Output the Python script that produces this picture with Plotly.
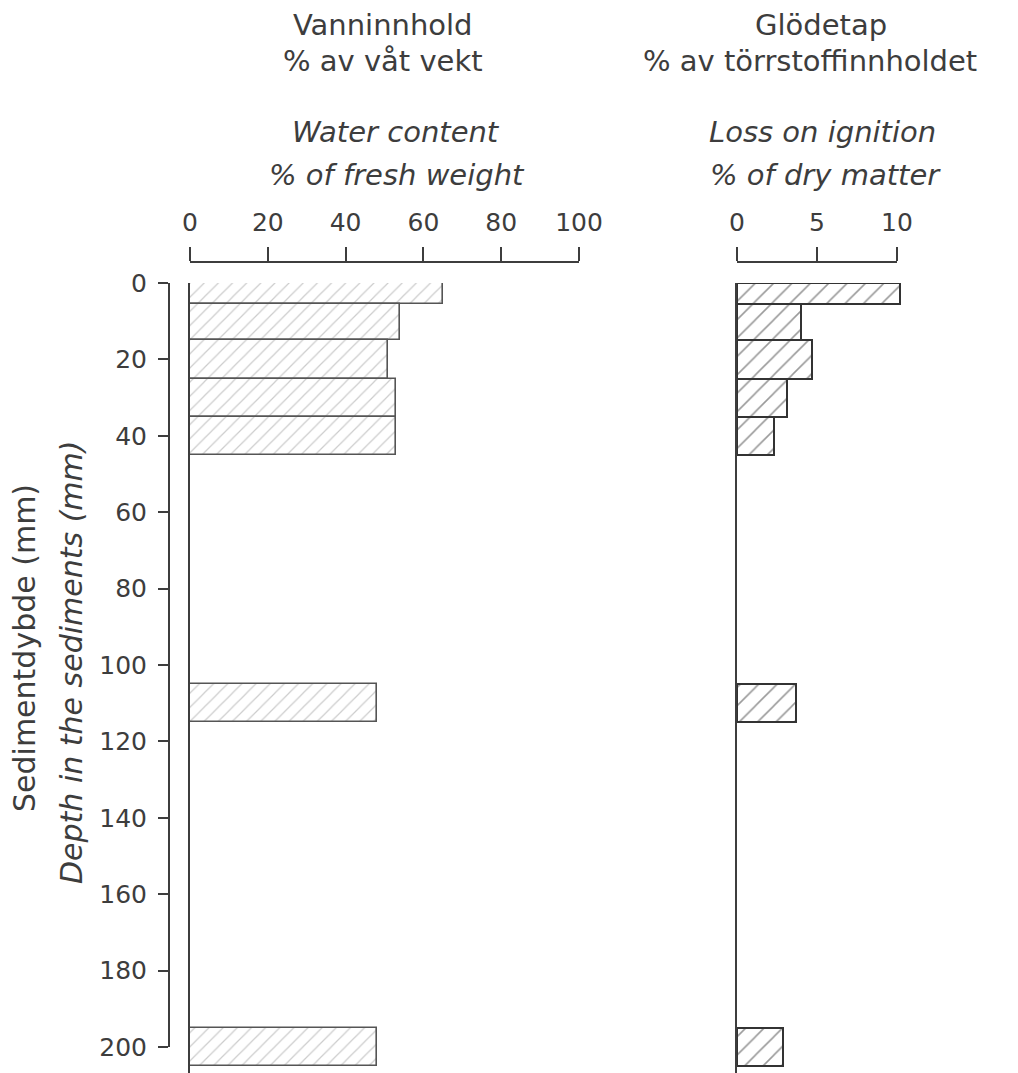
import plotly.graph_objects as go

# 깊이 구간 (mm)
depth_top = [0, 5.5, 15, 25, 35, 105, 195]
depth_bottom = [5.5, 15, 25, 35, 45, 115, 205]

# 수분 함량 (% of fresh weight)
water_content = [65, 54, 51, 53, 53, 48, 48]
# 강열 감량 (% of dry matter)
loss_on_ignition = [10.2, 4.0, 4.7, 3.1, 2.3, 3.7, 2.9]

water_ticks = [0, 20, 40, 60, 80, 100]
ignition_ticks = [0, 5, 10]
depth_ticks = [0, 20, 40, 60, 80, 100, 120, 140, 160, 180, 200]

centers = [(a + b) / 2 for a, b in zip(depth_top, depth_bottom)]
widths = [b - a for a, b in zip(depth_top, depth_bottom)]

INK = '#3d3d3d'
FONT = 'DejaVu Sans'
W, H = 1018, 1073
OFF = 8  # 페이지 body 여백


def px(x):
    return (x - OFF) / W


def py(y):
    return 1 - (y - OFF) / H


# 화면 기준 위치 (px)
Y0, Y200 = 283, 1047          # 깊이 0, 200
PX_MM = (Y200 - Y0) / 200
W0, W100 = 190, 579           # 수분 0, 100
I0, I10 = 737, 897            # 강열감량 0, 10
depth_max = (H + OFF - Y0) / PX_MM
ign_max = 10.5

fig = go.Figure()

# 1) 수분 함량 막대
fig.add_trace(go.Bar(
    x=water_content, y=centers, width=widths, orientation='h',
    xaxis='x', yaxis='y2',
    marker=dict(color='white', line=dict(color='#555555', width=1.6),
                pattern=dict(shape='/', fgcolor='#9a9a9a', bgcolor='white',
                             size=10, solidity=0.12)),
    showlegend=False, hoverinfo='skip',
))

# 2) 강열 감량 막대
fig.add_trace(go.Bar(
    x=loss_on_ignition, y=centers, width=widths, orientation='h',
    xaxis='x3', yaxis='y3',
    marker=dict(color='white', line=dict(color='#333333', width=2),
                pattern=dict(shape='/', fgcolor='#333333', bgcolor='white',
                             size=13, solidity=0.12)),
    showlegend=False, hoverinfo='skip',
))

# 눈금 축 표시용 빈 트레이스
fig.add_trace(go.Scatter(x=[], y=[], xaxis='x', yaxis='y', showlegend=False))
fig.add_trace(go.Scatter(x=[], y=[], xaxis='x2', yaxis='y', showlegend=False))

x_axis_pos = py(262)

common_x = dict(side='top', anchor='free', position=x_axis_pos,
                showline=True, linecolor=INK, linewidth=2,
                ticks='outside', ticklen=14, tickwidth=2, tickcolor=INK,
                ticklabelstandoff=6, showgrid=False, zeroline=False,
                tickfont=dict(family=FONT, size=25, color=INK))

bar_y = dict(domain=[0, py(Y0)], range=[depth_max, 0], showline=True,
             linecolor=INK, linewidth=2, ticks='', showticklabels=False,
             showgrid=False, zeroline=False)

fig.update_layout(
    width=W, height=H,
    margin=dict(l=0, r=0, t=0, b=0, autoexpand=False),
    plot_bgcolor='white', paper_bgcolor='white',
    bargap=0,
    xaxis=dict(common_x, domain=[px(W0), px(W100)], range=[0, 100],
               tickvals=water_ticks),
    xaxis2=dict(common_x, domain=[px(I0), px(I10)], range=[0, 10],
                tickvals=ignition_ticks),
    xaxis3=dict(domain=[px(I0), px(I0 + (I10 - I0) / 10 * ign_max)],
                range=[0, ign_max], anchor='y3', visible=False),
    yaxis=dict(domain=[py(Y200), py(Y0)], range=[200, 0], anchor='free',
               position=px(169), showline=True, linecolor=INK, linewidth=2,
               ticks='outside', ticklen=10, tickwidth=2, tickcolor=INK,
               ticklabelstandoff=6, tickvals=depth_ticks, showgrid=False,
               zeroline=False, tickfont=dict(family=FONT, size=25, color=INK)),
    yaxis2=dict(bar_y, anchor='x'),
    yaxis3=dict(bar_y, anchor='x3'),
)

# 제목 텍스트
titles = [
    (383, 25, 'Vanninnhold', False),
    (383, 61, '% av våt vekt', False),
    (396, 132, 'Water content', True),
    (397, 175, '% of fresh weight', True),
    (821, 25, 'Glödetap', False),
    (810, 61, '% av törrstoffinnholdet', False),
    (822, 132, 'Loss on ignition', True),
    (825, 175, '% of dry matter', True),
]
for x, y, text, ital in titles:
    fig.add_annotation(x=px(x), y=py(y), xref='paper', yref='paper',
                       text=f'<i>{text}</i>' if ital else text, showarrow=False,
                       xanchor='center', yanchor='middle',
                       font=dict(family=FONT, size=29, color=INK))

fig.add_annotation(x=px(24), y=py(648), xref='paper', yref='paper',
                   text='Sedimentdybde (mm)', textangle=-90, showarrow=False,
                   xanchor='center', yanchor='middle',
                   font=dict(family=FONT, size=30, color=INK))
fig.add_annotation(x=px(72), y=py(662), xref='paper', yref='paper',
                   text='<i>Depth in the sediments (mm)</i>', textangle=-90,
                   xanchor='center', yanchor='middle',
                   showarrow=False, font=dict(family=FONT, size=30, color=INK))

fig.write_html("out.html")
